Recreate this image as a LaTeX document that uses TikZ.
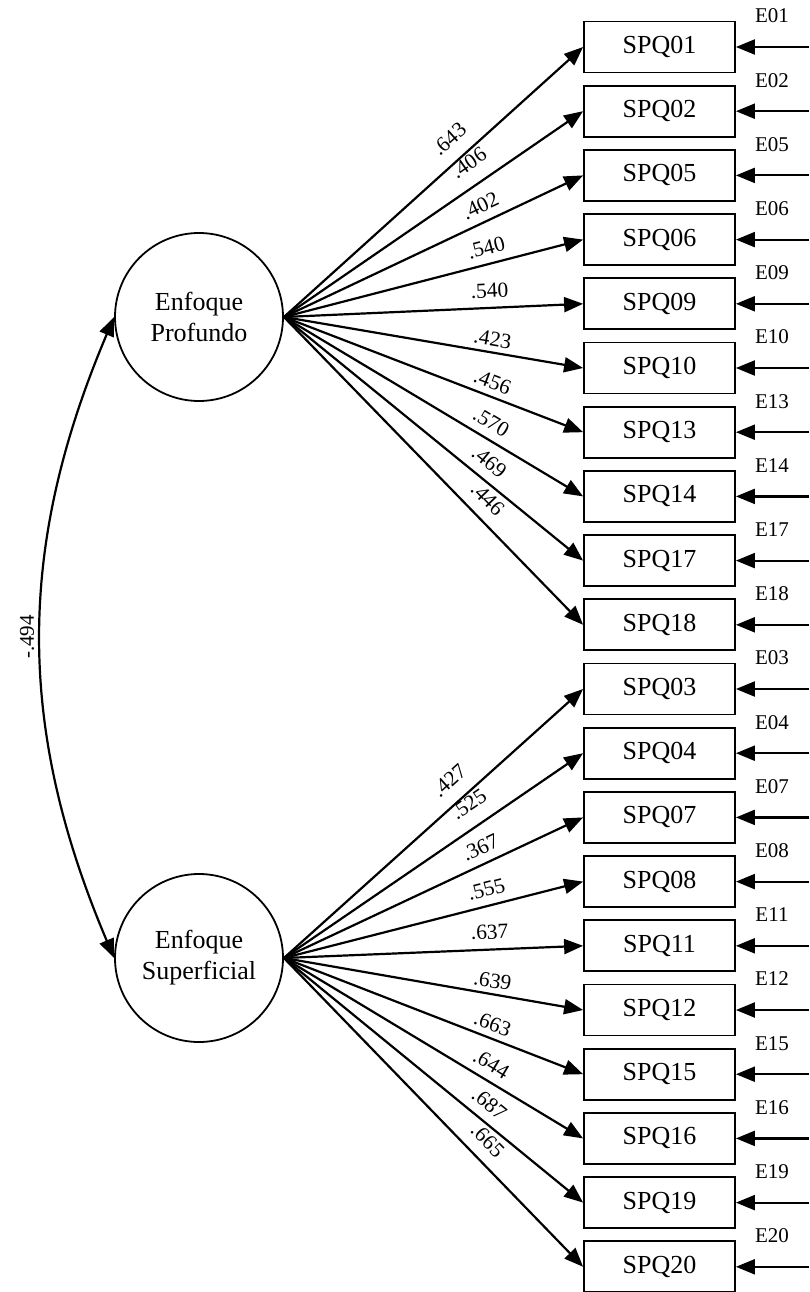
\documentclass[tikz,border=0pt]{standalone}
\usepackage{fontspec}
\setmainfont{Liberation Serif}
\usetikzlibrary{arrows.meta}
\begin{document}
\begin{tikzpicture}[x=1pt,y=-1pt,
  box/.style={draw, line width=1.8pt, minimum width=151pt, minimum height=51pt, inner sep=0pt, font=\fontsize{26}{30}\selectfont},
  latent/.style={draw, circle, line width=1.8pt, minimum size=168pt, inner sep=0pt, align=center, font=\fontsize{26}{31}\selectfont},
  arr/.style={line width=2.2pt, -{Triangle[length=19pt,width=15pt]}},
  lab/.style={font=\fontsize{21.5}{24}\selectfont, sloped, inner sep=2pt},
  elab/.style={font=\fontsize{21}{24}\selectfont, inner sep=0pt}
]
\useasboundingbox (0,0) rectangle (809,1292);
\node[latent] (ep) at (199,317) {Enfoque\\Profundo};
\node[latent] (es) at (199,958) {Enfoque\\Superficial};
\foreach \id/\lv/\p/\o/\lat [count=\i from 0] in {
  01/.643/0.60/11/ep, 02/.406/0.66/12/ep, 05/.402/0.68/6/ep, 06/.540/0.69/6/ep, 09/.540/0.69/7/ep,
  10/.423/0.69/3/ep, 13/.456/0.68/4/ep, 14/.570/0.665/6/ep, 17/.469/0.65/7/ep, 18/.446/0.635/9/ep,
  03/.427/0.60/11/es, 04/.525/0.66/12/es, 07/.367/0.68/6/es, 08/.555/0.69/6/es, 11/.637/0.69/7/es,
  12/.639/0.69/3/es, 15/.663/0.68/4/es, 16/.644/0.665/6/es, 19/.687/0.65/7/es, 20/.665/0.635/9/es}
{
  \pgfmathsetmacro\yy{47+64.2*\i}
  \node[box] (q\id) at (659.5,\yy) {SPQ\id};
  \coordinate (r\id) at (809,\yy);
  \node[elab] (e\id) at (772,\yy-31) {E\id};
  \draw[arr] (r\id) -- (q\id.east);
  \draw[arr] (\lat.east) -- (q\id.west) node[lab, pos=\p, above=\o pt] {\lv};
}
\draw[line width=2.2pt, {Triangle[length=19pt,width=15pt]}-{Triangle[length=19pt,width=15pt]}] (ep.west) to[bend right=23] (es.west);
\node[elab, rotate=90] (corr) at (27,637) {-.494};
\end{tikzpicture}
\end{document}
